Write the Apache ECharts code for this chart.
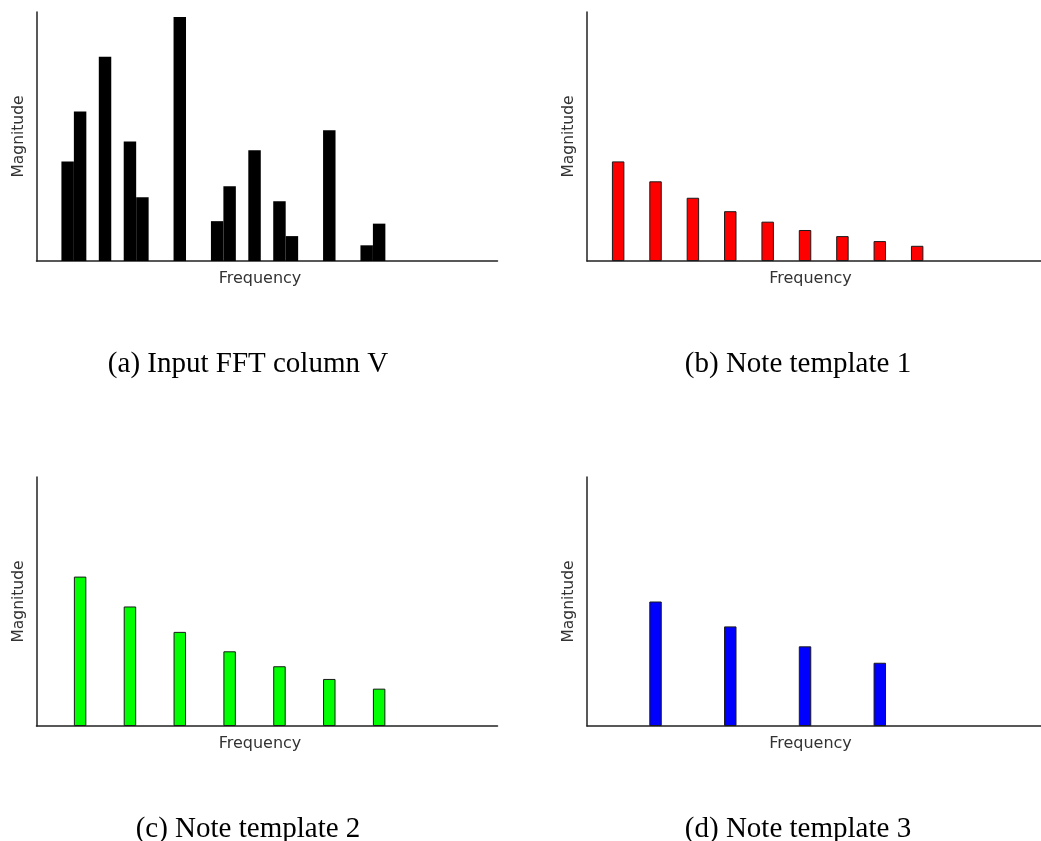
<!DOCTYPE html>
<html><head><meta charset="utf-8">
<script src="https://cdn.jsdelivr.net/npm/echarts@6/dist/echarts.min.js"></script>
<style>html,body{margin:0;padding:0;background:#fff}#c{width:1041px;height:841px}</style>
</head><body><div id="c"></div>
<script>
// ---- data ----
const binCount = 37;
const binLabels = Array.from({length: binCount}, (_, i) => String(i));
const inputBins = [2, 3, 5, 7, 8, 11, 14, 15, 17, 19, 20, 23, 26, 27];
const inputMags = [4.0, 6.0, 8.2, 4.8, 2.56, 9.8, 1.6, 3.0, 4.45, 2.4, 1.0, 5.25, 0.63, 1.5];
const t1Bins = [2, 5, 8, 11, 14, 17, 20, 23, 26];
const t1Mags = [4.0, 3.2, 2.54, 2.0, 1.58, 1.245, 1.0, 0.8, 0.61];
const t2Bins = [3, 7, 11, 15, 19, 23, 27];
const t2Mags = [6.0, 4.8, 3.78, 3.0, 2.4, 1.89, 1.5];
const t3Bins = [5, 11, 17, 23];
const t3Mags = [5.0, 4.0, 3.2, 2.54];
const captions = ['(a) Input FFT column V', '(b) Note template 1', '(c) Note template 2', '(d) Note template 3'];
const xName = 'Frequency';
const yName = 'Magnitude';
const yMax = 10;

// ---- layout / style ----
const panels = [
  {bins: inputBins, mags: inputMags, color: '#000000', border: 0},
  {bins: t1Bins, mags: t1Mags, color: '#ff0000', border: 1},
  {bins: t2Bins, mags: t2Mags, color: '#00ff00', border: 1},
  {bins: t3Bins, mags: t3Mags, color: '#0000ff', border: 1}
];
const gridPos = [
  {left: 36.5, top: 12}, {left: 587, top: 12},
  {left: 36.5, top: 477}, {left: 587, top: 477}
];
const capPos = [[248, 364], [798, 364], [248, 829], [798, 829]];
const axisLine = {show: true, lineStyle: {color: '#222', width: 1.5}};

const option = {
  backgroundColor: '#fff',
  animation: false,
  grid: gridPos.map(g => ({left: g.left, top: g.top, width: 461, height: 249,
    containLabel: false, outerBoundsMode: 'none'})),
  xAxis: panels.map((p, i) => ({
    type: 'category', gridIndex: i, data: binLabels, boundaryGap: true,
    axisLine: axisLine, axisTick: {show: false}, axisLabel: {show: false}, splitLine: {show: false},
    name: xName, nameLocation: 'middle', nameGap: 10,
    nameTextStyle: {fontFamily: 'DejaVu Sans', fontSize: 16, color: '#333', verticalAlign: 'top', padding: [0, 14, 0, 0]}
  })),
  yAxis: panels.map((p, i) => ({
    type: 'value', gridIndex: i, min: 0, max: yMax,
    axisLine: axisLine, axisTick: {show: false}, axisLabel: {show: false}, splitLine: {show: false},
    name: yName, nameLocation: 'middle', nameGap: 10, nameRotate: 90,
    nameTextStyle: {fontFamily: 'DejaVu Sans', fontSize: 15.5, color: '#333'}
  })),
  series: panels.map((p, i) => ({
    type: 'bar', xAxisIndex: i, yAxisIndex: i,
    barCategoryGap: '0%', barGap: '0%',
    data: p.bins.map((b, k) => [b, p.mags[k]]),
    itemStyle: {color: p.color, borderColor: '#1a1a1a', borderWidth: p.border},
    silent: true
  })),
  graphic: captions.map((t, i) => ({
    type: 'text', x: capPos[i][0], y: capPos[i][1],
    style: {text: t, align: 'center', verticalAlign: 'middle',
      font: '29px "Liberation Serif"', fill: '#000'}
  }))
};
const chart = echarts.init(document.getElementById('c'), null, {renderer: 'canvas'});
chart.setOption(option);
</script>
</body></html>
